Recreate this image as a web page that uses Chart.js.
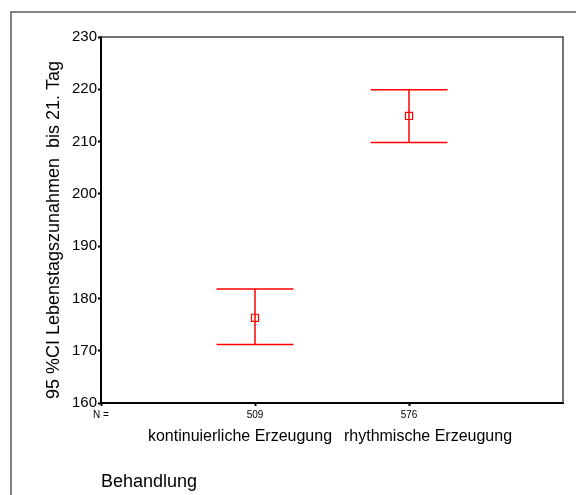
<!DOCTYPE html>
<html>
<head>
<meta charset="utf-8">
<script src="https://cdn.jsdelivr.net/npm/chart.js@4"></script>
<style>
  html, body { margin: 0; padding: 0; background: #fff; }
  canvas { display: block; }
</style>
</head>
<body>
<canvas id="myChart" width="576" height="495"></canvas>
<script>
// データ
const categories = ["kontinuierliche Erzeugung", "rhythmische Erzeugung"];
const nValues = [509, 576];
const means = [176.3, 214.9];
const ciLower = [171.2, 209.8];
const ciUpper = [181.8, 219.9];
const yTickValues = [160, 170, 180, 190, 200, 210, 220, 230];

const RED = "#ff0000";
const FONT = "Liberation Sans, Arial, sans-serif";
const capHalf = 0.25; // ヒゲのキャップ幅（x軸単位）

// データセットを作る
const datasets = [];
categories.forEach((cat, i) => {
    const x = i + 1;
    // 縦線
    datasets.push({
        type: "line",
        data: [{ x: x, y: ciLower[i] }, { x: x, y: ciUpper[i] }],
        borderColor: RED, borderWidth: 1.5, pointRadius: 0, fill: false,
    });
    // 上下のキャップ
    [ciLower[i], ciUpper[i]].forEach((v) => {
        datasets.push({
            type: "line",
            data: [{ x: x - capHalf, y: v }, { x: x + capHalf, y: v }],
            borderColor: RED, borderWidth: 1.5, pointRadius: 0, fill: false,
        });
    });
});
// 平均値のマーカー
datasets.push({
    type: "scatter",
    data: means.map((m, i) => ({ x: i + 1, y: m })),
    pointStyle: "rect",
    pointRadius: 5,
    pointBorderColor: RED,
    pointBackgroundColor: "rgba(255,255,255,0)",
    pointBorderWidth: 1.2,
});

// 枠と文字を描くプラグイン
const decor = {
    id: "decor",
    afterDraw(chart) {
        const ctx = chart.ctx;
        const area = chart.chartArea;
        const xs = chart.scales.x;
        ctx.save();
        // 外枠
        ctx.strokeStyle = "#5a5a5a";
        ctx.lineWidth = 1.5;
        ctx.beginPath();
        ctx.moveTo(11, 495);
        ctx.lineTo(11, 12);
        ctx.lineTo(576, 12);
        ctx.stroke();
        // プロット領域の上と右
        ctx.strokeStyle = "#444";
        ctx.lineWidth = 1.5;
        ctx.beginPath();
        ctx.moveTo(area.left, area.top);
        ctx.lineTo(area.right, area.top);
        ctx.lineTo(area.right, area.bottom);
        ctx.stroke();
        // カテゴリ名
        ctx.fillStyle = "#000";
        ctx.font = "16px " + FONT;
        ctx.textBaseline = "middle";
        ctx.textAlign = "center";
        const shift = [-15, 19];
        categories.forEach((cat, i) => {
            ctx.fillText(cat, xs.getPixelForValue(i + 1) + shift[i], 437);
        });
        // x軸タイトル
        ctx.textAlign = "left";
        ctx.font = "18px " + FONT;
        ctx.fillText("Behandlung", area.left, 482);
        // y軸タイトル
        ctx.translate(54, 230);
        ctx.rotate(-Math.PI / 2);
        ctx.textAlign = "center";
        ctx.fillText("95 %CI Lebenstagszunahmen  bis 21. Tag", 0, 0);
        ctx.restore();
    },
};

// グラフを表示する
const ctx = document.getElementById("myChart");
const myChart = new Chart(ctx, {
    type: "scatter",
    data: { datasets },
    options: {
        responsive: false,
        animation: false,
        layout: { padding: { top: 37, right: 13, left: 0, bottom: 0 } },
        plugins: { legend: { display: false }, tooltip: { enabled: false } },
        scales: {
            x: {
                type: "linear",
                min: 0,
                max: 3,
                afterBuildTicks: (s) => { s.ticks = [0, 1, 2].map((v) => ({ value: v })); },
                afterFit: (s) => { s.height = 92; },
                ticks: {
                    autoSkip: false,
                    maxRotation: 0,
                    color: "#000",
                    font: { family: FONT, size: 10 },
                    padding: 3,
                    callback: (v) => (v === 0 ? "N =" : String(nValues[v - 1])),
                },
                grid: { drawOnChartArea: false, drawTicks: true, tickLength: 3, tickWidth: 2, tickColor: "#000" },
                border: { color: "#000", width: 2 },
            },
            y: {
                min: 160,
                max: 230,
                afterBuildTicks: (s) => { s.ticks = yTickValues.map((v) => ({ value: v })); },
                afterFit: (s) => { s.width = 101; },
                ticks: {
                    color: "#000",
                    font: { family: FONT, size: 15 },
                    padding: 1,
                },
                grid: { drawOnChartArea: false, drawTicks: true, tickLength: 3, tickWidth: 2, tickColor: "#000" },
                border: { color: "#000", width: 2 },
            },
        },
    },
    plugins: [decor],
});
</script>
</body>
</html>
